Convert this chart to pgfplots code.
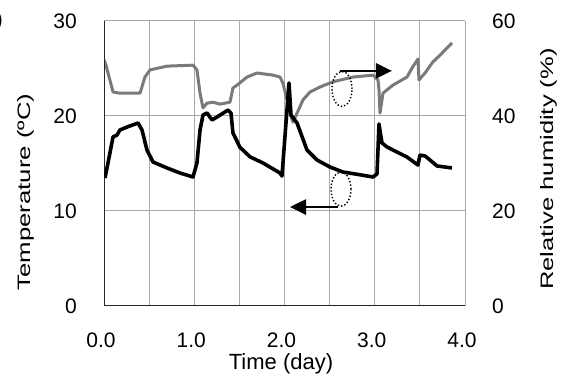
\documentclass[border=0pt]{standalone}
\usepackage{fontspec}
\setmainfont{Liberation Sans}
\usepackage{pgfplots}
\pgfplotsset{compat=1.18}
\usetikzlibrary{arrows.meta}
\definecolor{rhgray}{RGB}{122,122,122}
\definecolor{gridgray}{RGB}{168,168,168}
\begin{document}
\begin{tikzpicture}
% ---- Relative humidity axis (right), with the grid ----
\begin{axis}[
  at={(104bp,68bp)}, anchor=south west,
  width=361bp, height=285bp, scale only axis,
  xmin=0, xmax=4, ymin=0, ymax=60,
  xtick={0,1,2,3,4}, xticklabels={},
  minor xtick={0.5,1.5,2.5,3.5},
  ytick={0,20,40,60},
  grid=both,
  major grid style={gridgray, line width=1bp},
  minor grid style={gridgray, line width=1bp},
  axis line style={draw=none},
  major tick length=0pt, minor tick length=0pt,
  yticklabel pos=right,
  tick label style={font=\fontsize{21bp}{25bp}\selectfont, inner sep=0pt},
  /pgf/number format/assume math mode=true,
  yticklabel style={anchor=west, xshift=27bp},
]
\addplot[rhgray, line width=3bp, line join=round] coordinates {
(0.000,51.8) (0.022,50.7) (0.100,45.05) (0.177,44.8) (0.399,44.8) (0.454,48.2)
(0.510,49.7) (0.698,50.5) (0.986,50.7) (1.030,49.7) (1.064,44.8) (1.097,41.7)
(1.141,42.7) (1.208,42.9) (1.285,42.5) (1.396,42.9) (1.429,45.9) (1.474,46.5)
(1.585,48.2) (1.695,49.05) (1.873,48.6) (1.950,48.2) (1.983,46.9) (2.028,43.4)
(2.061,40.6) (2.094,38.7) (2.139,40.6) (2.205,43.4) (2.283,45.05) (2.393,46.1)
(2.537,47.2) (2.759,48.2) (2.981,48.6) (3.036,47.6) (3.047,45.5) (3.058,40.6)
(3.091,44.8) (3.136,45.5) (3.202,46.5) (3.357,48.2) (3.413,50.1) (3.479,52.0)
(3.490,47.6) (3.557,49.05) (3.645,51.4) (3.723,52.8) (3.856,55.4)
};
\draw[black, line width=2.6bp, -{Triangle[length=16bp,width=15bp]}]
  (axis cs:2.615,49.5) -- (axis cs:3.19,49.5);
\draw[black, dotted, line width=1.4bp] (axis cs:2.637,45.7) ellipse [x radius=10bp, y radius=17.5bp];
\end{axis}
% ---- Temperature axis (left) ----
\begin{axis}[
  at={(104bp,68bp)}, anchor=south west,
  width=361bp, height=285bp, scale only axis,
  xmin=0, xmax=4, ymin=0, ymax=30,
  xtick={0,1,2,3,4}, xticklabels={0.0,1.0,2.0,3.0,4.0},
  ytick={0,10,20,30},
  axis line style={draw=none},
  major tick length=0pt,
  tick label style={font=\fontsize{21bp}{25bp}\selectfont, inner sep=0pt},
  /pgf/number format/assume math mode=true,
  xticklabel style={anchor=north, yshift=-27bp, xshift=-3bp},
  yticklabel style={anchor=east, xshift=-27bp},
]
\draw[black!85, line width=1.3bp] (rel axis cs:0,1) -- (rel axis cs:0,0) -- (rel axis cs:1,0);
\addplot[black, line width=3.6bp, line join=round] coordinates {
(0.011,13.47) (0.044,15.05) (0.100,17.79) (0.144,18.0) (0.177,18.53) (0.255,18.84)
(0.377,19.26) (0.421,18.53) (0.476,16.42) (0.543,15.16) (0.698,14.53) (0.842,14.0)
(0.986,13.58) (1.030,15.05) (1.064,18.53) (1.097,20.1) (1.141,20.32) (1.197,19.58)
(1.252,19.89) (1.374,20.63) (1.407,20.3) (1.429,18.2) (1.507,16.7) (1.618,15.7)
(1.762,15.05) (1.950,14.0) (1.972,13.68) (2.050,23.47) (2.072,20.1) (2.139,19.26)
(2.249,16.42) (2.360,15.37) (2.504,14.63) (2.648,14.1) (2.781,13.9) (2.981,13.58)
(3.025,13.9) (3.047,19.16) (3.080,17.16) (3.136,16.74) (3.202,16.42) (3.357,15.68)
(3.479,14.84) (3.501,15.89) (3.557,15.79) (3.612,15.37) (3.690,14.74) (3.856,14.53)
};
\draw[black, line width=2.6bp, -{Triangle[length=16bp,width=15bp]}]
  (axis cs:2.593,10.42) -- (axis cs:2.061,10.42);
\draw[black, dotted, line width=1.4bp] (axis cs:2.626,12.3) ellipse [x radius=10bp, y radius=17bp];
\end{axis}
% ---- axis titles ----
\node[rotate=90, anchor=base, inner sep=0pt, font=\fontsize{18bp}{22bp}\selectfont]
  at (30bp,182bp) {\scalebox{1.43}[1]{Temperature (ºC)}};
\node[rotate=90, anchor=base, inner sep=0pt, font=\fontsize{18bp}{22bp}\selectfont]
  at (553bp,205bp) {\scalebox{1.42}[1]{Relative humidity (\%)}};
\node[anchor=base, inner sep=0pt, font=\fontsize{22bp}{26bp}\selectfont]
  at (281bp,5bp) {Time (day)};
\node[anchor=east, inner sep=0pt, font=\fontsize{21bp}{25bp}\selectfont]
  at (3bp,353bp) {)};
\pgfresetboundingbox
\path[use as bounding box] (0,0) rectangle (561bp,374bp);
\end{tikzpicture}
\end{document}
